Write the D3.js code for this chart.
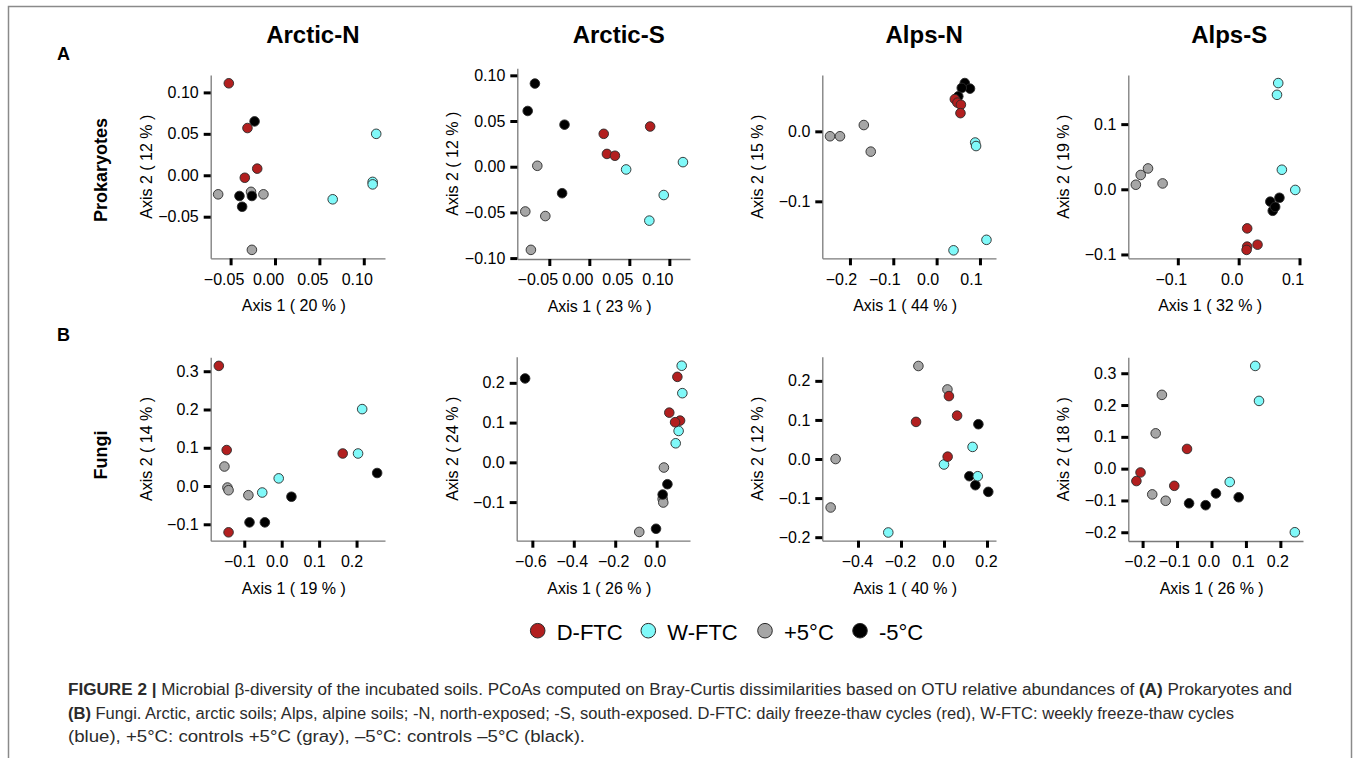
<!DOCTYPE html>
<html>
<head>
<meta charset="utf-8">
<script src="https://cdn.jsdelivr.net/npm/d3@7"></script>
<style>
body { margin: 0; background: #fff; }
svg text { font-family: "Liberation Sans", Arial, Helvetica, sans-serif; }
</style>
</head>
<body>
<svg id="chart" width="1360" height="758"></svg>
<script>
// groups and colours
var groups = ["D-FTC", "W-FTC", "+5°C", "-5°C"];
var groupColors = ["#b21f1f", "#80f9f9", "#a6a6a6", "#000000"];
var drawOrder = ["+5°C", "-5°C", "W-FTC", "D-FTC"];

var sites = ["Arctic-N", "Arctic-S", "Alps-N", "Alps-S"];
var organisms = ["Prokaryotes", "Fungi"];
var axis1Pct = [20, 23, 44, 32, 19, 26, 40, 26];
var axis2Pct = [12, 12, 15, 19, 14, 24, 12, 18];

// axis extents and ticks per panel (row A then row B)
var xDomains = [[-0.0724, 0.1239], [-0.090, 0.1258], [-0.2638, 0.137], [-0.1814, 0.1008],
                [-0.1897, 0.276], [-0.6756, 0.161], [-0.5659, 0.2419], [-0.2415, 0.2657]];
var yDomains = [[-0.1002, 0.121], [-0.101, 0.1077], [-0.1814, 0.0805], [-0.1059, 0.1754],
                [-0.1429, 0.3364], [-0.197, 0.2657], [-0.209, 0.2618], [-0.2275, 0.3501]];
var xTicks = [[-0.05, 0, 0.05, 0.10], [-0.05, 0, 0.05, 0.10], [-0.2, -0.1, 0, 0.1], [-0.1, 0, 0.1],
              [-0.1, 0, 0.1, 0.2], [-0.6, -0.4, -0.2, 0], [-0.4, -0.2, 0, 0.2], [-0.2, -0.1, 0, 0.1, 0.2]];
var yTicks = [[-0.05, 0, 0.05, 0.10], [-0.10, -0.05, 0, 0.05, 0.10], [-0.1, 0], [-0.1, 0, 0.1],
              [-0.1, 0, 0.1, 0.2, 0.3], [-0.1, 0, 0.1, 0.2], [-0.2, -0.1, 0, 0.1, 0.2], [-0.2, -0.1, 0, 0.1, 0.2, 0.3]];
var tickDigits = [2, 2, 1, 1, 1, 1, 1, 1];

// PCoA scores: [group, axis1, axis2]
var prokArcticN = [
  ["D-FTC", -0.052, 0.111], ["D-FTC", -0.031, 0.057], ["D-FTC", -0.020, 0.008], ["D-FTC", -0.034, -0.003],
  ["W-FTC", 0.114, 0.050], ["W-FTC", 0.110, -0.008], ["W-FTC", 0.110, -0.011], ["W-FTC", 0.065, -0.029],
  ["+5°C", -0.064, -0.023], ["+5°C", -0.027, -0.020], ["+5°C", -0.013, -0.023], ["+5°C", -0.026, -0.090],
  ["-5°C", -0.023, 0.065], ["-5°C", -0.040, -0.025], ["-5°C", -0.037, -0.038], ["-5°C", -0.026, -0.025]
];
var prokArcticS = [
  ["D-FTC", 0.018, 0.036], ["D-FTC", 0.022, 0.014], ["D-FTC", 0.032, 0.012], ["D-FTC", 0.076, 0.044],
  ["W-FTC", 0.046, -0.003], ["W-FTC", 0.117, 0.005], ["W-FTC", 0.093, -0.031], ["W-FTC", 0.075, -0.059],
  ["+5°C", -0.065, 0.001], ["+5°C", -0.080, -0.049], ["+5°C", -0.055, -0.054], ["+5°C", -0.073, -0.091],
  ["-5°C", -0.068, 0.091], ["-5°C", -0.077, 0.061], ["-5°C", -0.031, 0.046], ["-5°C", -0.034, -0.029]
];
var prokAlpsN = [
  ["D-FTC", 0.042, 0.046], ["D-FTC", 0.048, 0.041], ["D-FTC", 0.056, 0.038], ["D-FTC", 0.055, 0.026],
  ["W-FTC", 0.089, -0.016], ["W-FTC", 0.091, -0.021], ["W-FTC", 0.115, -0.155], ["W-FTC", 0.039, -0.170],
  ["+5°C", -0.246, -0.007], ["+5°C", -0.223, -0.007], ["+5°C", -0.168, 0.009], ["+5°C", -0.152, -0.029],
  ["-5°C", 0.065, 0.069], ["-5°C", 0.077, 0.061], ["-5°C", 0.058, 0.062], ["-5°C", 0.050, 0.050]
];
var prokAlpsS = [
  ["D-FTC", 0.014, -0.060], ["D-FTC", 0.014, -0.088], ["D-FTC", 0.013, -0.093], ["D-FTC", 0.031, -0.085],
  ["W-FTC", 0.065, 0.163], ["W-FTC", 0.063, 0.145], ["W-FTC", 0.071, 0.030], ["W-FTC", 0.093, -0.001],
  ["+5°C", -0.169, 0.007], ["+5°C", -0.161, 0.022], ["+5°C", -0.149, 0.032], ["+5°C", -0.125, 0.009],
  ["-5°C", 0.052, -0.019], ["-5°C", 0.056, -0.033], ["-5°C", 0.067, -0.013], ["-5°C", 0.060, -0.027]
];
var fungiArcticN = [
  ["D-FTC", -0.168, 0.314], ["D-FTC", -0.147, 0.094], ["D-FTC", -0.142, -0.121], ["D-FTC", 0.163, 0.085],
  ["W-FTC", -0.052, -0.017], ["W-FTC", -0.008, 0.020], ["W-FTC", 0.204, 0.085], ["W-FTC", 0.215, 0.201],
  ["+5°C", -0.153, 0.051], ["+5°C", -0.145, -0.004], ["+5°C", -0.142, -0.011], ["+5°C", -0.089, -0.024],
  ["-5°C", -0.086, -0.095], ["-5°C", -0.045, -0.095], ["-5°C", 0.026, -0.028], ["-5°C", 0.255, 0.034]
];
var fungiArcticS = [
  ["D-FTC", 0.100, 0.215], ["D-FTC", 0.061, 0.125], ["D-FTC", 0.113, 0.105], ["D-FTC", 0.089, 0.101],
  ["W-FTC", 0.121, 0.243], ["W-FTC", 0.124, 0.174], ["W-FTC", 0.106, 0.079], ["W-FTC", 0.092, 0.048],
  ["+5°C", 0.035, -0.013], ["+5°C", 0.029, -0.092], ["+5°C", 0.032, -0.101], ["+5°C", -0.084, -0.175],
  ["-5°C", -0.635, 0.211], ["-5°C", 0.052, -0.055], ["-5°C", 0.029, -0.081], ["-5°C", -0.003, -0.167]
];
var fungiAlpsN = [
  ["D-FTC", 0.023, 0.161], ["D-FTC", 0.061, 0.111], ["D-FTC", -0.130, 0.095], ["D-FTC", 0.017, 0.006],
  ["W-FTC", 0.133, 0.031], ["W-FTC", 0.000, -0.014], ["W-FTC", 0.157, -0.044], ["W-FTC", -0.259, -0.188],
  ["+5°C", -0.119, 0.238], ["+5°C", 0.016, 0.178], ["+5°C", -0.504, 0.000], ["+5°C", -0.527, -0.124],
  ["-5°C", 0.160, 0.089], ["-5°C", 0.118, -0.044], ["-5°C", 0.146, -0.067], ["-5°C", 0.206, -0.084]
];
var fungiAlpsS = [
  ["D-FTC", -0.071, 0.062], ["D-FTC", -0.206, -0.012], ["D-FTC", -0.218, -0.039], ["D-FTC", -0.108, -0.054],
  ["W-FTC", 0.127, 0.323], ["W-FTC", 0.138, 0.213], ["W-FTC", 0.053, -0.042], ["W-FTC", 0.242, -0.200],
  ["+5°C", -0.144, 0.232], ["+5°C", -0.162, 0.111], ["+5°C", -0.172, -0.081], ["+5°C", -0.133, -0.101],
  ["-5°C", -0.065, -0.109], ["-5°C", -0.017, -0.115], ["-5°C", 0.013, -0.078], ["-5°C", 0.079, -0.090]
];
var panelData = [prokArcticN, prokArcticS, prokAlpsN, prokAlpsS,
                 fungiArcticN, fungiArcticS, fungiAlpsN, fungiAlpsS];

// plot boxes in pixels: left (y axis), right, top, bottom (x axis)
var boxes = [
  [210.7, 385, 75, 258.3], [517.3, 690, 68.3, 259], [822.3, 996, 75, 258.3], [1128.3, 1300, 75, 258.3],
  [210.7, 385, 357.3, 540.7], [516.7, 690, 356.7, 540.7], [822.3, 996, 356.7, 540.7], [1128.3, 1303, 357.3, 541]
];
// the x tick labels in the source sit a little left of their ticks
var xLabelShift = [-7, -12, -9, -7, -5, -2, -1, -3];

var svg = d3.select("#chart");
var color = d3.scaleOrdinal().domain(groups).range(groupColors);

// frame
svg.append("rect")
  .attr("x", 8.5).attr("y", 6.5)
  .attr("width", 1343).attr("height", 780)
  .attr("fill", "none").attr("stroke", "#8a8a8a").attr("stroke-width", 1.5);

panelData.forEach(function(points, i) {
  var b = boxes[i];
  var row = Math.floor(i / 4), col = i % 4;
  var xScale = d3.scaleLinear().domain(xDomains[i]).range([b[0], b[1]]);
  var yScale = d3.scaleLinear().domain(yDomains[i]).range([b[3], b[2]]);
  var fmt = d3.format("." + tickDigits[i] + "f");

  var xAxis = d3.axisBottom(xScale).tickValues(xTicks[i]).tickFormat(fmt)
    .tickSize(7).tickSizeOuter(0).tickPadding(8);
  var yAxis = d3.axisLeft(yScale).tickValues(yTicks[i]).tickFormat(fmt)
    .tickSize(7).tickSizeOuter(0).tickPadding(5);

  var gx = svg.append("g").attr("transform", "translate(0," + b[3] + ")").call(xAxis);
  var gy = svg.append("g").attr("transform", "translate(" + b[0] + ",0)").call(yAxis);

  [gx, gy].forEach(function(g) {
    g.select(".domain").attr("stroke", "#7a7a7a").attr("stroke-width", 1.3);
    g.selectAll(".tick line").attr("stroke", "#000").attr("stroke-width", 3);
    g.selectAll(".tick text").attr("fill", "#000")
      .style("font-size", "16px").style("font-family", "'Liberation Sans', Arial, sans-serif");
  });
  gx.selectAll(".tick text").attr("dx", xLabelShift[i]);

  // axis titles
  svg.append("text")
    .attr("x", (b[0] + b[1]) / 2 - 4).attr("y", b[3] + 53)
    .attr("text-anchor", "middle").style("font-size", "16px")
    .text("Axis 1 ( " + axis1Pct[i] + " % )");
  svg.append("text")
    .attr("transform", "translate(" + (b[0] - 59) + "," + ((b[2] + b[3]) / 2) + ") rotate(-90)")
    .attr("text-anchor", "middle").style("font-size", "16px")
    .text("Axis 2 ( " + axis2Pct[i] + " % )");

  if (row === 0) {
    svg.append("text")
      .attr("x", (b[0] + b[1]) / 2 + 15).attr("y", 43)
      .attr("text-anchor", "middle")
      .style("font-size", "24px").style("font-weight", "bold")
      .text(sites[col]);
  }

  var sorted = points.slice().sort(function(a, c) {
    return drawOrder.indexOf(a[0]) - drawOrder.indexOf(c[0]);
  });
  svg.append("g").selectAll("circle")
    .data(sorted)
    .enter()
    .append("circle")
    .attr("cx", function(d) { return xScale(d[1]); })
    .attr("cy", function(d) { return yScale(d[2]); })
    .attr("r", 4.8)
    .attr("fill", function(d) { return color(d[0]); })
    .attr("stroke", "#2a2a2a")
    .attr("stroke-width", 0.9);
});

// row letters and row names
svg.append("text").attr("x", 57).attr("y", 60)
  .style("font-size", "18px").style("font-weight", "bold").text("A");
svg.append("text").attr("x", 57).attr("y", 341)
  .style("font-size", "18px").style("font-weight", "bold").text("B");
[170, 455].forEach(function(cy, r) {
  svg.append("text")
    .attr("transform", "translate(107," + cy + ") rotate(-90)")
    .attr("text-anchor", "middle")
    .style("font-size", "18px").style("font-weight", "bold")
    .text(organisms[r]);
});

// legend
var legendX = [537.7, 648.3, 765, 860];
var legend = svg.append("g");
groups.forEach(function(g, k) {
  legend.append("circle")
    .attr("cx", legendX[k]).attr("cy", 630.7).attr("r", 7.3)
    .attr("fill", color(g)).attr("stroke", "#2a2a2a").attr("stroke-width", 1);
  legend.append("text")
    .attr("x", legendX[k] + 19).attr("y", 640)
    .style("font-size", "22px")
    .text(g);
});

// caption, stretched to the widths of the printed lines
var captionLines = [
  [["FIGURE 2 |", true], [" Microbial \u03b2-diversity of the incubated soils. PCoAs computed on Bray-Curtis dissimilarities based on OTU relative abundances of ", false], ["(A)", true], [" Prokaryotes and", false]],
  [["(B)", true], [" Fungi. Arctic, arctic soils; Alps, alpine soils; -N, north-exposed; -S, south-exposed. D-FTC: daily freeze-thaw cycles (red), W-FTC: weekly freeze-thaw cycles", false]],
  [["(blue), +5\u00b0C: controls +5\u00b0C (gray), \u20135\u00b0C: controls \u20135\u00b0C (black).", false]]
];
var captionWidths = [1224, 1166, 517];
captionLines.forEach(function(parts, li) {
  var t = svg.append("text")
    .attr("x", 68).attr("y", 695 + li * 23.5)
    .attr("textLength", captionWidths[li])
    .attr("lengthAdjust", "spacingAndGlyphs")
    .style("font-size", "16px").attr("fill", "#2b2b2b");
  parts.forEach(function(p) {
    t.append("tspan").style("font-weight", p[1] ? "bold" : "normal").text(p[0]);
  });
});
</script>
</body>
</html>
